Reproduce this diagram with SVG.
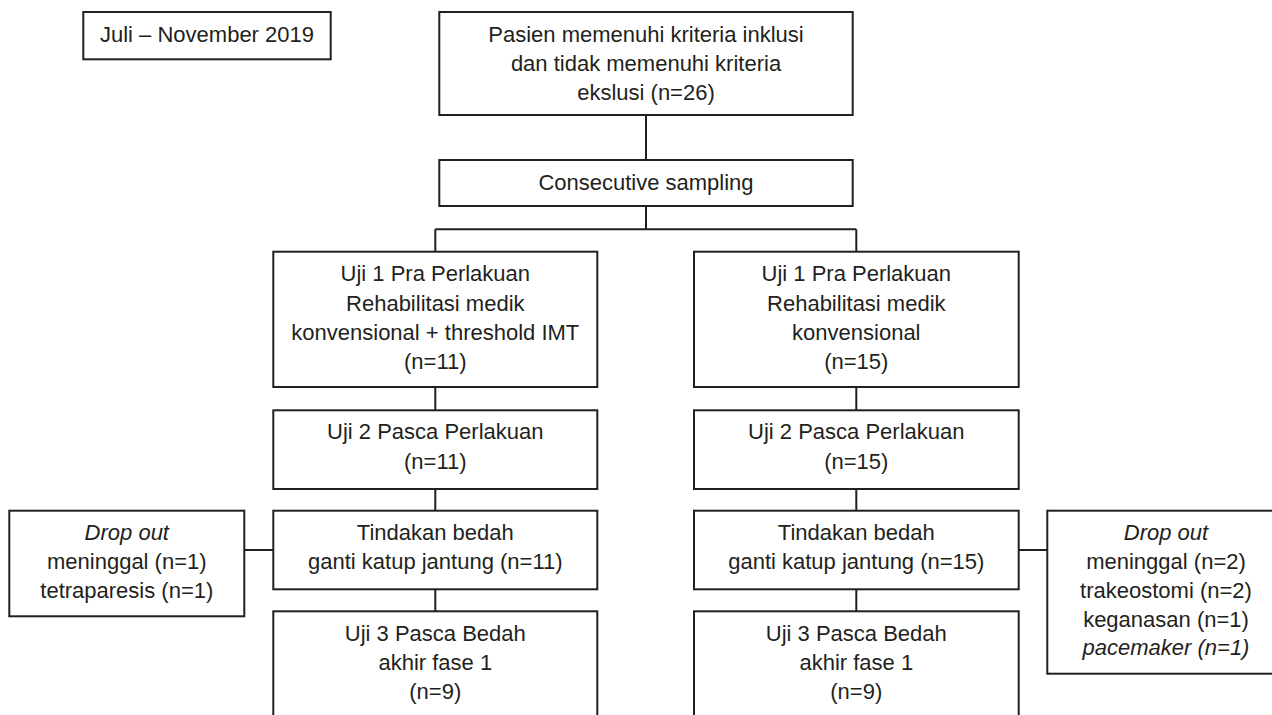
<svg xmlns="http://www.w3.org/2000/svg" width="1272" height="715" viewBox="0 0 1272 715">
<style>
.box{fill:#fff;stroke:#231f20;stroke-width:2}
.ln{fill:none;stroke:#231f20;stroke-width:2}
text{font-family:"Liberation Sans",Arial,sans-serif;font-size:22px;fill:#231f20;text-anchor:middle}
.it{font-style:italic}
</style>
<rect width="1272" height="715" fill="#fff"/>
<g id="connectors">
<path class="ln" d="M646 115V160M646 206V229.3M435.3 229.3H856.3M435.3 229.3V251.7M856.3 229.3V251.7"/>
<path class="ln" d="M435.3 387V410.3M435.3 489V510.7M435.3 589.3V611.3M244.3 550H273.3"/>
<path class="ln" d="M856.3 387V410.3M856.3 489V510.7M856.3 589.3V611.3M1018.7 550H1047.3"/>
</g>
<g id="period">
<rect class="box" x="83.3" y="12" width="247.4" height="47.3"/>
<text x="207" y="41.5">Juli – November 2019</text>
</g>
<g id="inclusion">
<rect class="box" x="439.3" y="12" width="413.4" height="103"/>
<text x="646" y="41.5">Pasien memenuhi kriteria inklusi</text>
<text x="646" y="70.8">dan tidak memenuhi kriteria</text>
<text x="646" y="100">ekslusi (n=26)</text>
</g>
<g id="sampling">
<rect class="box" x="439.3" y="160" width="413.4" height="46"/>
<text x="646" y="190">Consecutive sampling</text>
</g>
<g id="left-uji1">
<rect class="box" x="273.3" y="251.7" width="324" height="135.3"/>
<text x="435.3" y="281.3">Uji 1 Pra Perlakuan</text>
<text x="435.3" y="310.6">Rehabilitasi medik</text>
<text x="435.3" y="339.9">konvensional + threshold IMT</text>
<text x="435.3" y="369.2">(n=11)</text>
</g>
<g id="left-uji2">
<rect class="box" x="273.3" y="410.3" width="324" height="78.7"/>
<text x="435.3" y="439.3">Uji 2 Pasca Perlakuan</text>
<text x="435.3" y="468.6">(n=11)</text>
</g>
<g id="left-surgery">
<rect class="box" x="273.3" y="510.7" width="324" height="78.6"/>
<text x="435.3" y="540">Tindakan bedah</text>
<text x="435.3" y="569.3">ganti katup jantung (n=11)</text>
</g>
<g id="left-uji3">
<rect class="box" x="273.3" y="611.3" width="324" height="120"/>
<text x="435.3" y="640.7">Uji 3 Pasca Bedah</text>
<text x="435.3" y="669.6">akhir fase 1</text>
<text x="435.3" y="698.5">(n=9)</text>
</g>
<g id="left-dropout">
<rect class="box" x="9.3" y="510.7" width="235" height="105.6"/>
<text x="126.8" y="540" class="it">Drop out</text>
<text x="126.8" y="569.3">meninggal (n=1)</text>
<text x="126.8" y="598.3">tetraparesis (n=1)</text>
</g>
<g id="right-uji1">
<rect class="box" x="694" y="251.7" width="324.7" height="135.3"/>
<text x="856.3" y="281.3">Uji 1 Pra Perlakuan</text>
<text x="856.3" y="310.6">Rehabilitasi medik</text>
<text x="856.3" y="339.9">konvensional</text>
<text x="856.3" y="369.2">(n=15)</text>
</g>
<g id="right-uji2">
<rect class="box" x="694" y="410.3" width="324.7" height="78.7"/>
<text x="856.3" y="439.3">Uji 2 Pasca Perlakuan</text>
<text x="856.3" y="468.6">(n=15)</text>
</g>
<g id="right-surgery">
<rect class="box" x="694" y="510.7" width="324.7" height="78.6"/>
<text x="856.3" y="540">Tindakan bedah</text>
<text x="856.3" y="569.3">ganti katup jantung (n=15)</text>
</g>
<g id="right-uji3">
<rect class="box" x="694" y="611.3" width="324.7" height="120"/>
<text x="856.3" y="640.7">Uji 3 Pasca Bedah</text>
<text x="856.3" y="669.6">akhir fase 1</text>
<text x="856.3" y="698.5">(n=9)</text>
</g>
<g id="right-dropout">
<rect class="box" x="1047.3" y="510.7" width="235" height="163"/>
<text x="1166" y="540" class="it">Drop out</text>
<text x="1166" y="569.3">meninggal (n=2)</text>
<text x="1166" y="598.3">trakeostomi (n=2)</text>
<text x="1166" y="626.9">keganasan (n=1)</text>
<text x="1166" y="655.3" class="it">pacemaker (n=1)</text>
</g>
</svg>
